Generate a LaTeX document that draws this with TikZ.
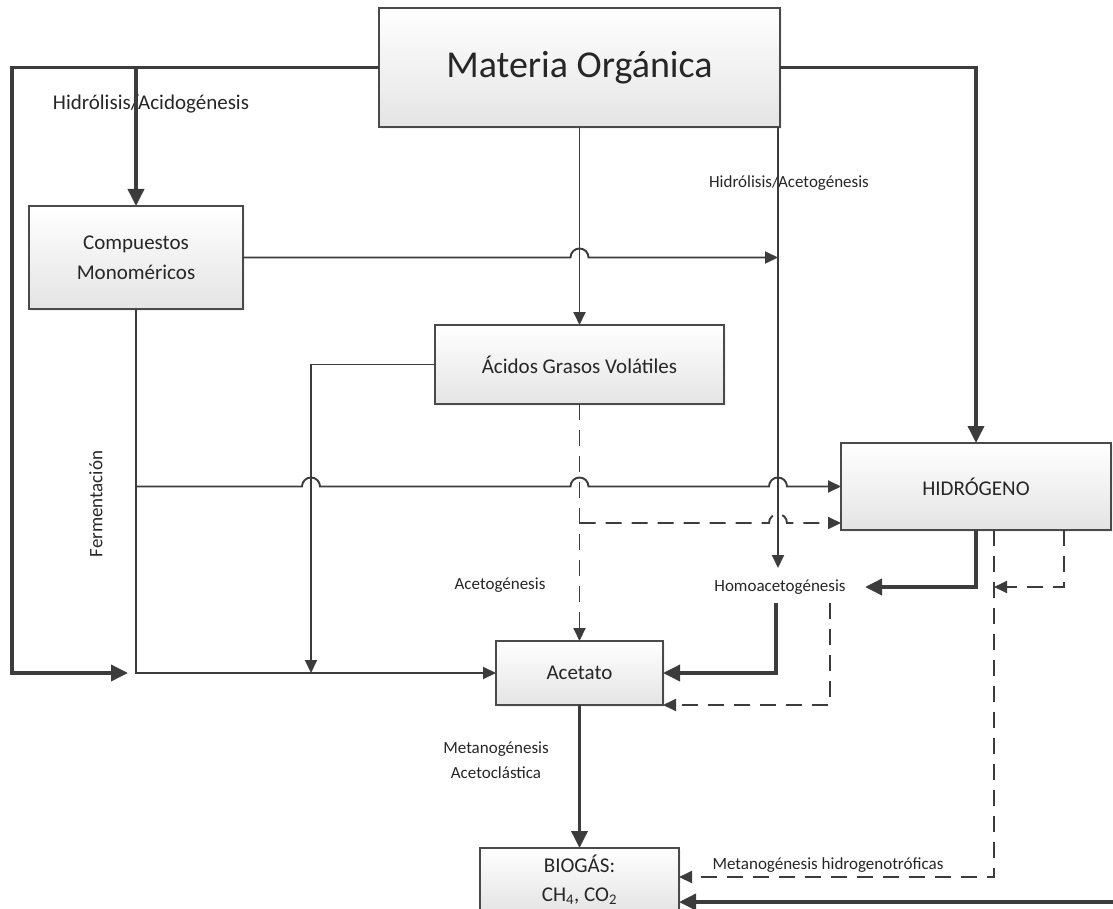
\documentclass[tikz,border=0pt]{standalone}
\usepackage{fontspec}
\setmainfont{Carlito}
\usetikzlibrary{arrows.meta,shadows}
\definecolor{bioLine}{HTML}{3C3C3C}
\definecolor{bioText}{HTML}{262626}
\definecolor{bioBorder}{HTML}{4A4A4A}
\definecolor{bioShade}{HTML}{E4E4E4}
\tikzset{
  bio diagram/.style={
    x=1pt, y=-1pt, line join=miter,
    >={Triangle[length=13pt,width=12pt]},
    every node/.style={text=bioText, inner sep=0pt, outer sep=0pt}
  },
  bio box/.style={draw=bioBorder, line width=1.9pt, top color=white,
    bottom color=bioShade, align=center,
    drop shadow={shadow xshift=2pt, shadow yshift=-2pt, fill=black!10}},
  bio flow/.style={draw=bioLine, line width=1.9pt},
  bio thick/.style={draw=bioLine, line width=3.6pt,
    >={Triangle[length=17pt,width=16pt]}},
  bio dash/.style={bio flow, dash pattern=on 16pt off 10pt},
  bio label/.style={font=\fontsize{17}{25}\selectfont, align=center}
}
\newcommand{\BioHop}[2]{-- ({#1-9},#2) arc[start angle=180,end angle=360,radius=9]}

\begin{document}
\begin{tikzpicture}[bio diagram]
  \useasboundingbox (0,0) rectangle (1113,909);
  \clip (0,0) rectangle (1113,909);
  % boxes
  \node[bio box, font=\fontsize{38}{44}\selectfont, minimum width=401, minimum height=119]
    (matorg) at (579.5,67.5) {Materia Orgánica};
  \node[bio box, font=\fontsize{21}{30}\selectfont, minimum width=214, minimum height=103]
    (comp) at (136,257.5) {Compuestos\\Monoméricos};
  \node[bio box, font=\fontsize{21}{30}\selectfont, minimum width=289, minimum height=79]
    (agv) at (579.5,364.5) {Ácidos Grasos Volátiles};
  \node[bio box, font=\fontsize{21}{30}\selectfont, minimum width=270, minimum height=87]
    (hid) at (976,486.5) {HIDRÓGENO};
  \node[bio box, font=\fontsize{21}{30}\selectfont, minimum width=167, minimum height=64]
    (acet) at (579.5,673) {Acetato};
  \node[bio box, font=\fontsize{21}{29}\selectfont, minimum width=199, minimum height=64]
    (biogas) at (579.5,880) {BIOGÁS:\\CH\textsubscript{4}, CO\textsubscript{2}};
  % labels
  \node[font=\fontsize{21}{25}\selectfont] (lblacid) at (151,104) {Hidrólisis/Acidogénesis};
  \node[bio label] (lblaceto) at (789,183) {Hidrólisis/Acetogénesis};
  \node[font=\fontsize{19}{23}\selectfont, rotate=90] (lblferm) at (96,504) {Fermentación};
  \node[bio label] (lblacetog) at (500,585) {Acetogénesis};
  \node[bio label] (homo) at (780,587) {Homoacetogénesis};
  \node[bio label] (lblmetac) at (496,760) {Metanogénesis\\Acetoclástica};
  \node[bio label] (lblmethyd) at (828,865) {Metanogénesis hidrogenotróficas};
  % free ends
  \coordinate (fermend) at (128,673);
  \coordinate (acidsplit) at (778,257.5);
  \coordinate (homotop) at (778,568);
  \coordinate (homobot) at (776,603);
  \coordinate (homoright) at (865,587);
  \coordinate (dashbot) at (830,603);
  \coordinate (dashmid) at (994,587);
  \coordinate (agvdrop) at (311,673);
  \coordinate (hiddash) at (841,523);
  \coordinate (biodash) at (679,877);
  \coordinate (rightedge) at (1114,902);
  % connectors
  \draw[bio thick,->] (matorg.west) -| (12,673) -- (fermend);
  \draw[bio thick,->] (matorg.west -| comp.north) -- (comp.north);
  \draw[bio thick,->] (matorg.east) -| (hid.north);
  \draw[bio flow,->] (matorg.south) -- (agv.north);
  \draw[bio flow,->] (matorg.south -| homotop) -- (homotop);
  \draw[bio flow,->] (comp.east) \BioHop{579.5}{257.5} -- (acidsplit);
  \draw[bio flow,->] (agv.west) -| (agvdrop);
  \draw[bio flow,->] (comp.south) |- (acet.west);
  \draw[bio flow,->] (comp.south |- hid.west) \BioHop{311}{486.5}
    \BioHop{579.5}{486.5} \BioHop{778}{486.5} -- (hid.west);
  \draw[bio dash,->] (agv.south) -- (acet.north);
  \draw[bio dash,->] (agv.south |- hiddash) \BioHop{778}{523} -- (hiddash);
  \draw[bio thick,->] (hid.south) |- (homoright);
  \draw[bio dash,->] ([xshift=88pt]hid.south) |- (dashmid);
  \draw[bio dash,->] (dashmid |- hid.south) |- (biodash);
  \draw[bio thick,->] (homobot) |- (acet.east);
  \draw[bio dash,->] (dashbot) |- (acet.south east);
  \draw[bio thick,->] (acet.south) -- (biogas.north);
  \draw[bio thick,->] (rightedge) -- (biogas.east |- rightedge);
\end{tikzpicture}
\end{document}
